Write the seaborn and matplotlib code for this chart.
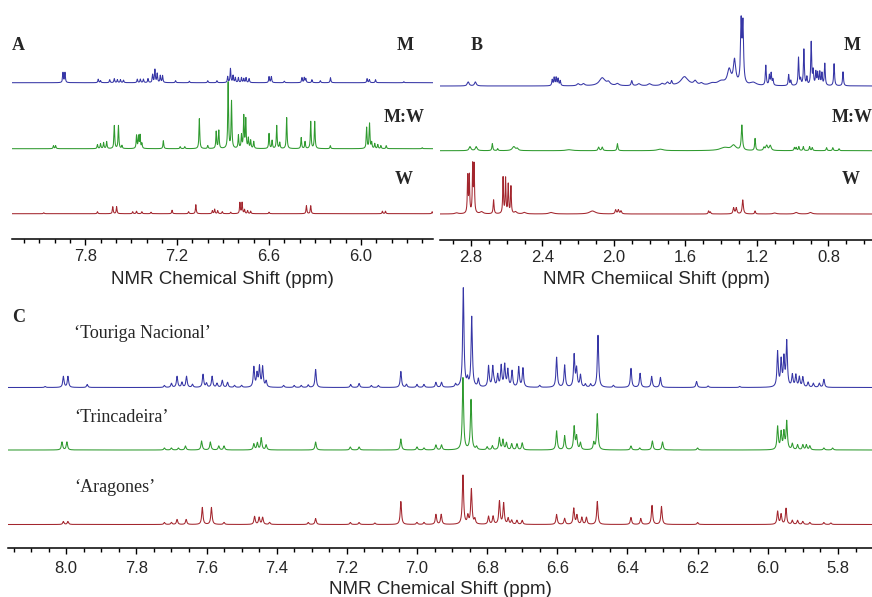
import numpy as np
import pandas as pd
import matplotlib
matplotlib.use("Agg")
import matplotlib.pyplot as plt
import seaborn as sns
from matplotlib.ticker import MultipleLocator

# peak lists: position (ppm), height (px above baseline), optional half-width (ppm)

# panel A (aromatic region), extracts M, M:W, W
a_m_ppm = [7.945, 7.932, 7.715, 7.70, 7.64, 7.61, 7.59, 7.57, 7.55, 7.46, 7.44, 7.42, 7.39, 7.36, 7.345,
           7.33, 7.31, 7.295, 7.21, 7.12, 7.0, 6.94, 6.87, 6.852, 6.835, 6.82, 6.80, 6.78, 6.765, 6.75,
           6.73, 6.60, 6.585, 6.5, 6.385, 6.37, 6.36, 6.32, 6.265, 6.199, 5.96, 5.945, 5.905, 5.72]
a_m_int = [10, 10, 3.5, 2, 3, 4, 3, 3, 2.5, 3.5, 3.5, 3.5, 4, 8, 13,
           9, 7, 7, 2, 1.5, 2, 2, 6, 14, 7, 5, 5, 5, 4, 5,
           4, 6, 6, 1.5, 5, 5, 4, 3, 2, 5, 4, 3, 3, 1]

a_mw_ppm = [8.007, 7.993, 7.72, 7.70, 7.68, 7.66, 7.61, 7.583, 7.56, 7.465, 7.452, 7.442, 7.43, 7.29,
            7.18, 7.15, 7.055, 7.0, 6.945, 6.928, 6.867, 6.845, 6.80, 6.78, 6.765, 6.752, 6.735, 6.72,
            6.70, 6.60, 6.58, 6.55, 6.53, 6.485, 6.39, 6.365, 6.328, 6.302, 6.20, 5.963, 5.944, 5.93,
            5.91, 5.89, 5.87, 5.835, 5.6]
a_mw_int = [3, 3, 4, 5, 6, 7, 23, 23, 3, 13, 12, 13, 5, 8,
            2, 2, 30, 3, 17, 18, 66, 47, 13, 13, 32, 29, 10, 8,
            7, 15, 8, 23, 6, 31, 11, 7, 27, 27, 3, 21, 25, 6,
            5, 4, 3, 3, 1]

a_w_ppm = [8.07, 7.72, 7.62, 7.595, 7.49, 7.465, 7.43, 7.37, 7.233, 7.125, 7.078, 6.97, 6.955, 6.935,
           6.905, 6.85, 6.79, 6.776, 6.76, 6.74, 6.72, 6.60, 6.356, 6.328, 5.86, 5.84, 5.535]
a_w_int = [1, 2, 7, 7, 2, 2.5, 2, 1.5, 3.5, 2, 9, 3, 4.5, 3,
           2, 1.5, 11, 11, 4, 3, 2.5, 1.5, 8, 8, 2.5, 2.5, 2]

# panel B (aliphatic region)
b_m_ppm = [2.815, 2.775, 2.345, 2.334, 2.323, 2.312, 2.30, 2.20, 2.17, 2.065, 2.03, 1.98, 1.90, 1.86,
           1.80, 1.73, 1.70, 1.677, 1.605, 1.545, 1.51, 1.45, 1.40, 1.355, 1.325, 1.288, 1.278, 1.22,
           1.15, 1.13, 1.12, 1.11, 1.022, 1.01, 0.967, 0.955, 0.937, 0.92, 0.896, 0.885, 0.87, 0.86,
           0.848, 0.836, 0.82, 0.768, 0.718]
b_m_int = [4, 4, 6, 8, 8, 7, 5, 2, 2, 8, 3, 2, 5, 2,
           2, 2, 3, 4, 9, 4, 2, 2, 4, 15, 24, 60, 58, 3,
           20, 10, 12, 6, 11, 5, 28, 6, 36, 8, 43, 14, 13, 12,
           13, 12, 22, 22, 14]
b_m_wid = [0.006, 0.006, 0.003, 0.003, 0.003, 0.003, 0.003, 0.008, 0.008, 0.02, 0.01, 0.01, 0.004, 0.01,
           0.01, 0.01, 0.008, 0.004, 0.025, 0.01, 0.01, 0.02, 0.025, 0.012, 0.008, 0.004, 0.004, 0.02,
           0.003, 0.003, 0.003, 0.003, 0.003, 0.003, 0.003, 0.003, 0.003, 0.003, 0.003, 0.003, 0.003, 0.003,
           0.003, 0.003, 0.003, 0.003, 0.003]

b_mw_ppm = [2.805, 2.77, 2.68, 2.65, 2.56, 2.54, 2.25, 2.085, 2.065, 1.98, 1.74, 1.38, 1.33, 1.284,
            1.21, 1.16, 1.145, 1.125, 0.99, 0.98, 0.965, 0.94, 0.905, 0.89, 0.81, 0.775, 0.74]
b_mw_int = [4, 4, 7, 2, 4, 2, 1, 3.5, 3.5, 7, 1.5, 3, 5, 25,
            12, 3, 5, 5, 3, 3, 4, 4, 4, 3, 3, 3, 2]
b_mw_wid = [0.006, 0.006, 0.003, 0.003, 0.01, 0.006, 0.02, 0.004, 0.004, 0.003, 0.02, 0.03, 0.015, 0.004,
            0.003, 0.004, 0.006, 0.006, 0.003, 0.003, 0.003, 0.003, 0.003, 0.003, 0.003, 0.003, 0.003]

b_w_ppm = [2.88, 2.818, 2.809, 2.79, 2.782, 2.74, 2.673, 2.62, 2.606, 2.591, 2.576, 2.55, 2.50, 2.35,
           2.12, 1.99, 1.975, 1.96, 1.47, 1.46, 1.33, 1.315, 1.279, 1.21, 1.1, 0.98, 0.90]
b_w_int = [1, 37, 37, 47, 47, 2, 14, 36, 35, 29, 27, 2, 1.5, 1.5,
           3, 4, 4, 3, 3, 2, 6, 6, 14, 3, 1, 1.5, 1.5]
b_w_wid = [0.01, 0.0025, 0.0025, 0.0025, 0.0025, 0.01, 0.003, 0.0025, 0.0025, 0.0025, 0.0025, 0.008, 0.01, 0.015,
           0.02, 0.004, 0.004, 0.004, 0.003, 0.003, 0.004, 0.004, 0.004, 0.003, 0.01, 0.01, 0.01]

# panel C (aromatic region), three cultivars
c_tn_ppm = [8.06, 8.008, 7.995, 7.94, 7.72, 7.70, 7.684, 7.67, 7.657, 7.64, 7.61, 7.60, 7.584, 7.57,
            7.555, 7.54, 7.52, 7.50, 7.465, 7.456, 7.449, 7.44, 7.43, 7.38, 7.35, 7.33, 7.31, 7.289,
            7.189, 7.165, 7.13, 7.11, 7.046, 7.03, 7.0, 6.98, 6.946, 6.93, 6.89, 6.868, 6.856, 6.844,
            6.825, 6.796, 6.784, 6.77, 6.76, 6.75, 6.741, 6.729, 6.71, 6.698, 6.78, 6.65, 6.602, 6.579,
            6.552, 6.545, 6.534, 6.52, 6.505, 6.484, 6.44, 6.39, 6.364, 6.331, 6.306, 6.203, 6.17, 6.08,
            5.972, 5.962, 5.954, 5.946, 5.93, 5.92, 5.91, 5.90, 5.885, 5.87, 5.853, 5.84]
c_tn_int = [1, 11, 11, 3, 2, 4, 11, 5, 11, 3, 13, 4, 11, 4,
            7, 5, 2, 2, 20, 13, 20, 20, 6, 2, 2, 2, 2.5, 18,
            3, 4, 2, 2, 16, 3, 3, 3, 5, 5, 3, 99, 7, 70,
            8, 21, 20, 12, 21, 22, 17, 16, 20, 19, 3, 2, 30, 22,
            32, 18, 12, 3, 3, 52, 2, 19, 14, 11, 10, 6, 1.5, 1,
            35, 26, 28, 45, 12, 12, 10, 10, 5, 4, 4, 8]

c_tr_ppm = [8.012, 7.998, 7.72, 7.70, 7.68, 7.66, 7.614, 7.589, 7.565, 7.55, 7.465, 7.455, 7.444, 7.43,
            7.289, 7.19, 7.165, 7.046, 7.0, 6.98, 6.946, 6.93, 6.869, 6.846, 6.83, 6.80, 6.785, 6.765,
            6.755, 6.745, 6.73, 6.715, 6.70, 6.602, 6.579, 6.552, 6.545, 6.534, 6.496, 6.486, 6.39, 6.365,
            6.329, 6.30, 6.20, 5.972, 5.962, 5.954, 5.946, 5.93, 5.915, 5.90, 5.89, 5.88, 5.84, 5.815]
c_tr_int = [8, 8, 2, 2, 2, 4, 9, 8, 4, 4, 6, 7, 12, 5,
            8, 3, 3, 11, 3, 2, 5, 5, 72, 50, 3, 3, 4, 12,
            10, 7, 6, 6, 7, 19, 14, 23, 13, 7, 7, 36, 4, 2,
            9, 8, 2, 23, 17, 17, 28, 6, 5, 5, 5, 4, 2, 2]

c_ar_ppm = [8.008, 7.995, 7.72, 7.70, 7.684, 7.658, 7.612, 7.586, 7.55, 7.463, 7.45, 7.44, 7.42, 7.31,
            7.289, 7.19, 7.165, 7.12, 7.046, 7.0, 6.98, 6.946, 6.931, 6.869, 6.855, 6.845, 6.835, 6.796,
            6.783, 6.765, 6.753, 6.74, 6.73, 6.715, 6.70, 6.602, 6.579, 6.553, 6.544, 6.53, 6.517, 6.486,
            6.39, 6.362, 6.33, 6.303, 6.20, 5.972, 5.962, 5.948, 5.93, 5.915, 5.90, 5.88, 5.84, 5.82]
c_ar_int = [3, 3, 2, 2, 5, 5, 17, 17, 2, 8, 7, 7, 2, 2,
            6, 2, 2, 1.5, 23, 2, 2, 10, 10, 49, 8, 35, 5, 8,
            8, 23, 21, 6, 4, 4, 4, 10, 6, 16, 9, 7, 7, 23,
            7, 6, 19, 18, 2, 13, 10, 16, 4, 4, 3, 2, 2, 1.5]

blue, green, red = "#3636a6", "#2f9a2f", "#a3262e"


def spectrum(grid, ppm, heights, widths=None, w0=0.003):
    ppm = np.asarray(ppm)[:, None]
    h = np.asarray(heights)[:, None]
    w = np.full(ppm.shape, w0) if widths is None else np.asarray(widths)[:, None]
    return (h / (1 + ((grid[None, :] - ppm) / w) ** 2)).sum(axis=0)


sns.set_theme(style="white")
plt.rcParams['font.family'] = ['Liberation Sans', 'DejaVu Sans']

W, H = 872, 597
fig = plt.figure(figsize=(W / 100, H / 100), dpi=100)


def make_ax(x0, x1, y_axis, y_top):
    return fig.add_axes([x0 / W, 1 - y_axis / H, (x1 - x0) / W, (y_axis - y_top) / H])


def panel(ax, lim, traces, w0, major, minor, label, label_y, pad):
    grid = np.linspace(lim[0], lim[1], 14000)
    frames = []
    for name, off, ppm, ints, wid in traces:
        frames.append(pd.DataFrame({"ppm": grid, "y": off + spectrum(grid, ppm, ints, wid, w0),
                                    "sample": name}))
    df = pd.concat(frames, ignore_index=True)
    sns.lineplot(data=df, x="ppm", y="y", hue="sample", palette=[blue, green, red],
                 estimator=None, legend=False, lw=0.75, ax=ax)
    ax.set_xlim(lim)
    ax.set_ylim(0, ax.get_position().height * H)
    ax.set_facecolor("none")
    for s in ["top", "left", "right"]:
        ax.spines[s].set_visible(False)
    ax.spines["bottom"].set_color("black")
    ax.spines["bottom"].set_linewidth(1.1)
    ax.set_yticks([])
    ax.set_ylabel("")
    ax.xaxis.set_major_locator(MultipleLocator(major))
    ax.xaxis.set_minor_locator(MultipleLocator(minor))
    ax.tick_params(axis="x", which="major", direction="out", length=4, width=1, color="black",
                   labelsize=12, pad=pad, bottom=True)
    ax.tick_params(axis="x", which="minor", direction="out", length=3, width=1, color="black", bottom=True)
    ax.xaxis.set_major_formatter(matplotlib.ticker.FormatStrFormatter("%.1f"))
    ax.set_xlabel(label, fontsize=13.5, va="center")
    ax.xaxis.set_label_coords(0.5, label_y)


axA = make_ax(11.7, 433, 239, 20)
panel(axA, (8.28, 5.53),
      [("M", 156.3, a_m_ppm, a_m_int, None),
       ("M:W", 90.3, a_mw_ppm, a_mw_int, None),
       ("W", 25.3, a_w_ppm, a_w_int, None)],
      0.003, 0.6, 0.1, "NMR Chemical Shift (ppm)", -(280 - 239) / 219, 3)

axB = make_ax(440, 872, 240, 0)
panel(axB, (2.973, 0.556),
      [("M", 154, b_m_ppm, b_m_int, b_m_wid),
       ("M:W", 89.3, b_mw_ppm, b_mw_int, b_mw_wid),
       ("W", 26, b_w_ppm, b_w_int, b_w_wid)],
      0.003, 0.4, 0.1, "NMR Chemiical Shift (ppm)", -(280 - 240) / 240, 3)

axC = make_ax(8, 872, 548, 280)
panel(axC, (8.166, 5.703),
      [("Touriga Nacional", 160.5, c_tn_ppm, c_tn_int, None),
       ("Trincadeira", 98, c_tr_ppm, c_tr_int, None),
       ("Aragones", 23.5, c_ar_ppm, c_ar_int, None)],
      0.0022, 0.2, 0.05, "NMR Chemical Shift (ppm)", -(589 - 548) / 268, 5.5)

bold = dict(family=["Liberation Serif", "DejaVu Serif"], weight="bold", fontsize=13,
            ha="center", va="center")
for txt, x, y in [("A", 18, 46), ("M", 405, 46), ("M:W", 404, 118), ("W", 404, 180),
                  ("B", 477, 45), ("M", 852, 45), ("W", 851, 180), ("C", 19, 318)]:
    fig.text(x / W, 1 - y / H, txt, **bold)
fig.text(832 / W, 1 - 118 / H, "M:W", **{**bold, "ha": "left"})

serif = dict(family=["Liberation Serif", "DejaVu Serif"], fontsize=13, ha="left", va="center")
for txt, y in [("\u2018Touriga Nacional\u2019", 333), ("\u2018Trincadeira\u2019", 417),
               ("\u2018Aragones\u2019", 487)]:
    fig.text(74 / W, 1 - y / H, txt, **serif)

fig.savefig("out.png", dpi=100)
